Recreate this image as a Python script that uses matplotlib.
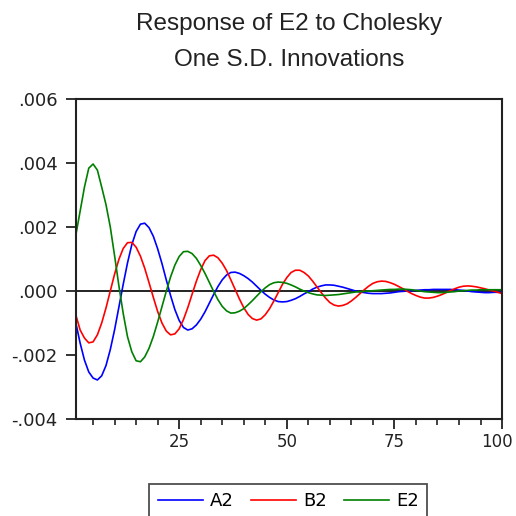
import matplotlib
matplotlib.use("Agg")
import matplotlib.pyplot as plt
import matplotlib.transforms as mtransforms
from matplotlib.ticker import MultipleLocator, FixedLocator

plt.rcParams['font.family'] = ['Liberation Sans', 'DejaVu Sans']

periods = list(range(1, 101))

# impulse responses of E2 (one S.D. Cholesky shocks)
a2 = [-0.00100, -0.00163, -0.00216, -0.00253, -0.00272, -0.00278, -0.00265, -0.00233, -0.00183, -0.00121,
      -0.00050, 0.00021, 0.00088, 0.00145, 0.00186, 0.00209, 0.00212, 0.00198, 0.00171, 0.00132,
      0.00086, 0.00035, -0.00014, -0.00058, -0.00092, -0.00114, -0.00122, -0.00118, -0.00106, -0.00088,
      -0.00065, -0.00038, -0.00011, 0.00014, 0.00035, 0.00050, 0.00058, 0.00059, 0.00055, 0.00048,
      0.00039, 0.00028, 0.00015, 0.00002, -0.00010, -0.00020, -0.00028, -0.00033, -0.00034, -0.00033,
      -0.00029, -0.00024, -0.00017, -0.00009, -0.00002, 0.00006, 0.00012, 0.00016, 0.00019, 0.00019,
      0.00018, 0.00015, 0.00012, 0.00008, 0.00004, 0.00000, -0.00003, -0.00005, -0.00007, -0.00008,
      -0.00008, -0.00008, -0.00007, -0.00006, -0.00004, -0.00002, -0.00001, 0.00000, 0.00001, 0.00002,
      0.00003, 0.00004, 0.00004, 0.00005, 0.00005, 0.00005, 0.00005, 0.00005, 0.00004, 0.00003,
      0.00002, 0.00000, -0.00002, -0.00003, -0.00004, -0.00005, -0.00005, -0.00004, -0.00004, -0.00003]

b2 = [-0.00075, -0.00122, -0.00147, -0.00162, -0.00159, -0.00137, -0.00100, -0.00053, 0.00000, 0.00053,
      0.00099, 0.00133, 0.00151, 0.00152, 0.00137, 0.00109, 0.00071, 0.00026, -0.00020, -0.00064,
      -0.00100, -0.00125, -0.00137, -0.00134, -0.00118, -0.00089, -0.00052, -0.00010, 0.00031, 0.00067,
      0.00095, 0.00110, 0.00112, 0.00104, 0.00087, 0.00064, 0.00035, 0.00005, -0.00025, -0.00052,
      -0.00073, -0.00086, -0.00091, -0.00087, -0.00074, -0.00055, -0.00031, -0.00005, 0.00021, 0.00042,
      0.00058, 0.00065, 0.00065, 0.00058, 0.00047, 0.00031, 0.00013, -0.00005, -0.00022, -0.00036,
      -0.00044, -0.00047, -0.00045, -0.00040, -0.00031, -0.00020, -0.00008, 0.00004, 0.00015, 0.00024,
      0.00029, 0.00031, 0.00030, 0.00026, 0.00021, 0.00014, 0.00007, -0.00001, -0.00008, -0.00014,
      -0.00019, -0.00022, -0.00022, -0.00020, -0.00016, -0.00011, -0.00005, 0.00001, 0.00007, 0.00012,
      0.00015, 0.00016, 0.00015, 0.00013, 0.00010, 0.00007, 0.00003, 0.00000, -0.00004, -0.00008]

e2 = [0.00175, 0.00250, 0.00325, 0.00384, 0.00397, 0.00378, 0.00325, 0.00270, 0.00200, 0.00110,
      0.00016, -0.00070, -0.00143, -0.00190, -0.00218, -0.00221, -0.00206, -0.00179, -0.00142, -0.00097,
      -0.00049, -0.00001, 0.00044, 0.00081, 0.00108, 0.00123, 0.00124, 0.00117, 0.00102, 0.00080,
      0.00055, 0.00027, -0.00001, -0.00027, -0.00048, -0.00062, -0.00069, -0.00068, -0.00063, -0.00055,
      -0.00043, -0.00030, -0.00016, -0.00002, 0.00010, 0.00020, 0.00026, 0.00028, 0.00027, 0.00024,
      0.00019, 0.00013, 0.00006, 0.00000, -0.00005, -0.00009, -0.00012, -0.00013, -0.00014, -0.00013,
      -0.00012, -0.00011, -0.00009, -0.00007, -0.00005, -0.00003, -0.00002, -0.00001, 0.00000, 0.00001,
      0.00002, 0.00003, 0.00004, 0.00005, 0.00005, 0.00006, 0.00006, 0.00005, 0.00004, 0.00002,
      0.00000, -0.00002, -0.00003, -0.00004, -0.00005, -0.00005, -0.00004, -0.00003, -0.00002, 0.00000,
      0.00001, 0.00002, 0.00003, 0.00003, 0.00004, 0.00004, 0.00004, 0.00004, 0.00004, 0.00004]

series = [("A2", a2, "#0000ff"), ("B2", b2, "#ff0000"), ("E2", e2, "#008000")]
xtick_vals = [25, 50, 75, 100]
ytick_vals = [-0.004, -0.002, 0.0, 0.002, 0.004, 0.006]
ytick_text = ["-.004", "-.002", ".000", ".002", ".004", ".006"]
title_lines = ["Response of E2 to Cholesky", "One S.D. Innovations"]

ink = "#222222"
tick_font = ['DejaVu Sans']

fig = plt.figure(figsize=(5.16, 5.16), dpi=100)
ax = fig.add_axes([0.147, 0.188, 0.826, 0.620])

ax.axhline(0, color=ink, lw=1.4, zorder=1)
for name, vals, col in series:
    ax.plot(periods, vals, color=col, lw=1.2, label=name, zorder=2)

ax.set_xlim(1, 100)
ax.set_ylim(-0.004, 0.006)
ax.xaxis.set_major_locator(FixedLocator(xtick_vals))
ax.xaxis.set_minor_locator(MultipleLocator(5))
ax.set_yticks(ytick_vals)
ax.set_yticklabels(ytick_text)

for s in ax.spines.values():
    s.set_linewidth(1.5)
    s.set_color(ink)
ax.tick_params(axis="both", which="major", direction="out", length=7, width=1.3, colors=ink)
ax.tick_params(axis="x", which="major", labelsize=12, pad=3)
ax.tick_params(axis="y", which="major", labelsize=13, pad=6)
ax.tick_params(axis="x", which="minor", direction="out", length=4, width=1.2, colors=ink)
for lab in ax.get_xticklabels() + ax.get_yticklabels():
    lab.set_family(tick_font)

# pull the last x label in so it stays inside the figure
last = ax.xaxis.get_major_ticks()[-1].label1
last.set_transform(last.get_transform()
                   + mtransforms.ScaledTranslation(-4 / 72, 0, fig.dpi_scale_trans))

# two-line heading centred over the plot area
cx = 0.147 + 0.826 / 2
fig.text(cx, 1 - 24 / 516, title_lines[0], ha="center", va="center", fontsize=17.5, color=ink)
fig.text(cx, 1 - 60 / 516, title_lines[1], ha="center", va="center", fontsize=17.5, color=ink)

leg = fig.legend(loc="upper center", bbox_to_anchor=(0.559, 1 - 484 / 516), ncol=3,
                 prop={'family': tick_font, 'size': 13}, frameon=True, fancybox=False,
                 edgecolor=ink, handlelength=2.5, columnspacing=0.95, borderpad=0.45,
                 handletextpad=0.4, borderaxespad=0)
leg.get_frame().set_linewidth(1.3)

fig.savefig("out.png", dpi=100)
